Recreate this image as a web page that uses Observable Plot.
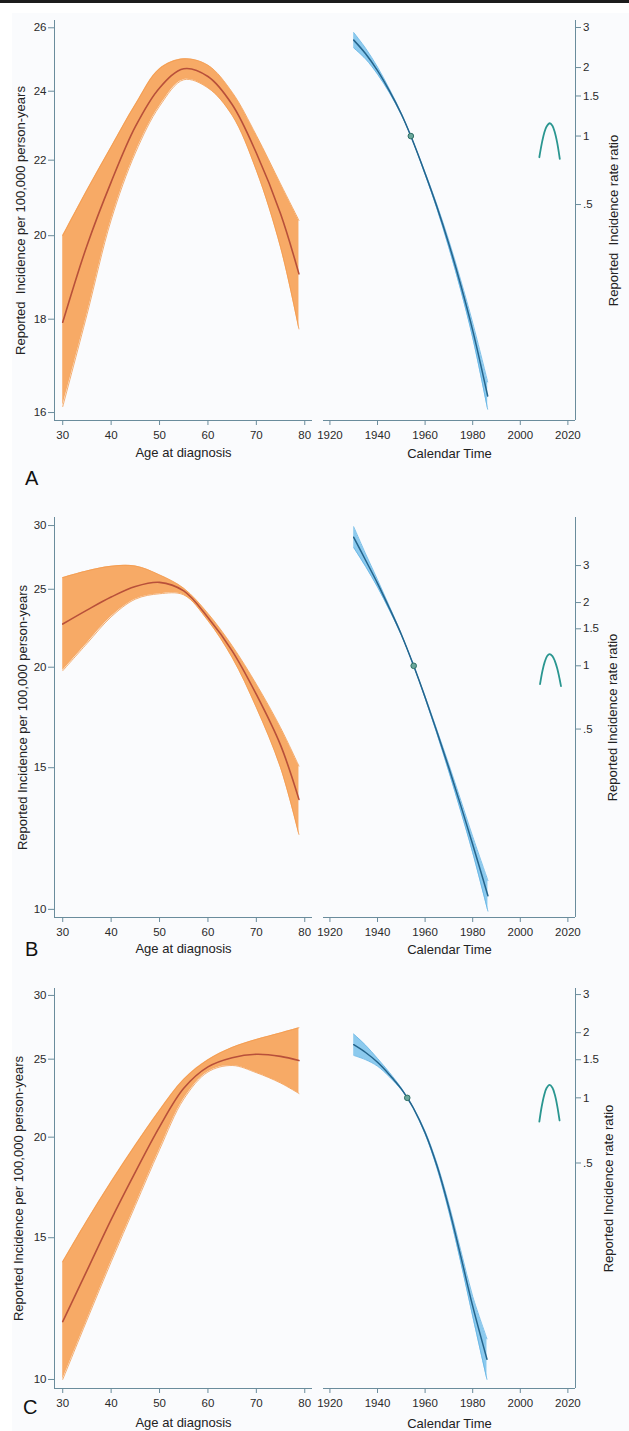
<!DOCTYPE html>
<html><head><meta charset="utf-8">
<script src="https://cdn.jsdelivr.net/npm/d3@7"></script>
<script src="https://cdn.jsdelivr.net/npm/@observablehq/plot@0.6"></script>
<style>
body{margin:0;background:#fff;}
#root{position:relative;width:629px;height:1431px;overflow:hidden;font-family:"Liberation Sans",Arial,sans-serif;}
.bar{position:absolute;left:0;top:0;width:629px;height:3px;background:#1c1c1c;}
.bg{position:absolute;left:12px;top:13px;right:0;bottom:0;background:#fafbfd;}
.plot{position:absolute;}
.letter{position:absolute;font-size:20px;line-height:20px;color:#111;font-family:"Liberation Sans",Arial,sans-serif;}
</style></head><body><div id="root"><div class="bar"></div><div class="bg"></div></div>
<script>
// ---- shared axes ----
const ageTicks = [30, 40, 50, 60, 70, 80];
const yearTicks = [1920, 1940, 1960, 1980, 2000, 2020];
const rrTicks = [3, 2, 1.5, 1, 0.5];
const ageDomain = [28.3, 81.6];
const yearDomain = [1917.3, 2023.2];

// ---- Panel A ----
const ageA = [30, 35, 40, 45, 50, 55, 60, 65, 70, 75, 78.8];
const estA = [17.93, 19.75, 21.4, 22.95, 24.1, 24.69, 24.45, 23.6, 22.2, 20.56, 19.06];
const loA  = [16.12, 18.1, 20.4, 22.2, 23.55, 24.35, 24.1, 23.28, 21.72, 19.71, 17.78];
const hiA  = [20.0, 21.18, 22.37, 23.6, 24.69, 25.0, 24.8, 23.97, 22.7, 21.35, 20.39];
const leftTicksA = [16, 18, 20, 22, 24, 26];
const leftDomainA = [15.84, 26.24];
const yearA = [1930, 1935, 1940, 1945, 1950, 1954, 1960, 1965, 1970, 1975, 1980, 1986.3];
const rrA   = [2.64, 2.30, 1.94, 1.58, 1.25, 1.00, 0.685, 0.488, 0.335, 0.221, 0.140, 0.072];
const rrLoA = [2.44, 2.18, 1.87, 1.55, 1.24, 1.00, 0.678, 0.478, 0.323, 0.210, 0.130, 0.063];
const rrHiA = [2.85, 2.43, 2.01, 1.61, 1.26, 1.00, 0.692, 0.498, 0.347, 0.232, 0.151, 0.083];
const refYearA = 1954;
const archYearA = [2008, 2009, 2010, 2011, 2012.4, 2013.5, 2014.5, 2015.5, 2016.6];
const archRrA   = [0.807, 0.924, 1.026, 1.099, 1.138, 1.11, 1.04, 0.936, 0.794];
const rightDomainA = [0.0562, 3.22];

// ---- Panel B ----
const ageB = [30, 35, 40, 45, 50, 55, 60, 65, 70, 75, 78.8];
const estB = [22.63, 23.55, 24.45, 25.2, 25.5, 24.88, 23.06, 20.96, 18.5, 16.0, 13.7];
const loB  = [19.8, 21.4, 23.1, 24.3, 24.68, 24.6, 22.85, 20.56, 17.82, 15.0, 12.39];
const hiB  = [25.85, 26.35, 26.7, 26.72, 26.05, 25.07, 23.33, 21.27, 19.05, 16.82, 15.07];
const leftTicksB = [10, 15, 20, 25, 30];
const leftDomainB = [9.77, 30.7];
const yearB = [1930, 1935, 1940, 1945, 1950, 1955.2, 1960, 1965, 1970, 1975, 1980, 1986.4];
const rrB   = [4.09, 3.18, 2.47, 1.88, 1.41, 1.00, 0.708, 0.484, 0.326, 0.216, 0.141, 0.0805];
const rrLoB = [3.65, 2.97, 2.37, 1.84, 1.40, 1.00, 0.701, 0.474, 0.313, 0.203, 0.129, 0.068];
const rrHiB = [4.59, 3.41, 2.57, 1.92, 1.42, 1.00, 0.715, 0.494, 0.339, 0.229, 0.154, 0.095];
const refYearB = 1955.2;
const archYearB = [2008.3, 2009.3, 2010.3, 2011.3, 2012.3, 2013.5, 2014.5, 2015.5, 2016.5, 2017.1];
const archRrB   = [0.818, 0.945, 1.047, 1.114, 1.137, 1.112, 1.056, 0.973, 0.868, 0.80];
const rightDomainB = [0.0634, 5.08];

// ---- Panel C ----
const ageC = [30, 35, 40, 45, 50, 55, 60, 65, 70, 75, 78.8];
const estC = [11.8, 13.65, 15.8, 18.1, 20.6, 23.0, 24.45, 25.1, 25.35, 25.2, 24.9];
const loC  = [10.0, 11.85, 14.0, 16.45, 19.3, 22.3, 24.1, 24.55, 24.05, 23.35, 22.66];
const hiC  = [14.0, 15.75, 17.6, 19.55, 21.6, 23.6, 24.95, 25.85, 26.45, 26.95, 27.35];
const leftTicksC = [10, 15, 20, 25, 30];
const leftDomainC = [9.745, 30.6];
const yearC = [1930, 1935, 1940, 1945, 1950, 1952.5, 1955, 1960, 1965, 1970, 1975, 1980, 1986];
const rrC   = [1.76, 1.62, 1.46, 1.28, 1.10, 1.00, 0.90, 0.69, 0.485, 0.31, 0.185, 0.109, 0.062];
const rrLoC = [1.57, 1.50, 1.40, 1.25, 1.09, 1.00, 0.895, 0.68, 0.473, 0.298, 0.174, 0.098, 0.050];
const rrHiC = [1.97, 1.75, 1.52, 1.31, 1.11, 1.00, 0.905, 0.70, 0.497, 0.323, 0.197, 0.121, 0.077];
const refYearC = 1952.5;
const archYearC = [2008, 2009, 2010, 2011, 2012.3, 2013.5, 2014.5, 2015.5, 2016.5];
const archRrC   = [0.777, 0.912, 1.026, 1.108, 1.148, 1.113, 1.035, 0.921, 0.786];
const rightDomainC = [0.0454, 3.2];

const leftTitleA = "Reported\u00A0 Incidence per 100,000 person-years";
const leftTitleBC = "Reported Incidence per 100,000 person-years";
const rightTitleA = "Reported\u00A0 Incidence rate ratio";
const rightTitleBC = "Reported Incidence rate ratio";

// ---- colours ----
const axisColor = "#6a8c9c";
const textColor = "#2a2a2a";
const orangeFill = "#f7aa66";
const orangeEdge = "#f29a4e";
const redLine = "#b8503a";
const blueFill = "#8ccaee";
const blueEdge = "#62b3e3";
const blueLine = "#24648c";
const archColor = "#2a9690";
const curve = "catmull-rom";

const font = "'Liberation Sans', Arial, sans-serif";
const root = document.getElementById("root");

function makePanel(p) {
  const ageRows = p.age.map((a, i) => ({age: a, est: p.est[i], lo: p.lo[i], hi: p.hi[i]}));
  const yrRows = p.year.map((y, i) => ({year: y, rr: p.rr[i], lo: p.rrLo[i], hi: p.rrHi[i]}));
  const archRows = p.archYear.map((y, i) => ({year: y, rr: p.archRr[i]}));
  const style = {background: "transparent", fontFamily: font, fontSize: "11.5px", color: textColor, overflow: "visible"};

  const left = Plot.plot({
    width: 318, height: 460, marginLeft: 54, marginRight: 6, marginTop: 20, marginBottom: 40,
    style,
    x: {domain: ageDomain},
    y: {type: "log", domain: p.leftDomain},
    marks: [
      Plot.areaY(ageRows, {x: "age", y1: "lo", y2: "hi", fill: orangeFill, curve}),
      Plot.lineY(ageRows, {x: "age", y: "lo", stroke: orangeEdge, strokeWidth: 0.8, curve}),
      Plot.lineY(ageRows, {x: "age", y: "hi", stroke: orangeEdge, strokeWidth: 0.8, curve}),
      Plot.lineY(ageRows, {x: "age", y: "est", stroke: redLine, strokeWidth: 1.6, curve}),
      Plot.ruleX([ageDomain[0]], {stroke: axisColor, strokeWidth: 1}),
      Plot.ruleY([p.leftDomain[0]], {stroke: axisColor, strokeWidth: 1}),
      Plot.axisX({ticks: ageTicks, tickSize: 5, tickPadding: 5, stroke: axisColor, fill: textColor, label: null, fontSize: 11.5}),
      Plot.axisY({ticks: p.leftTicks, tickFormat: d => String(d), tickSize: 6, tickPadding: 2, stroke: axisColor, fill: textColor, label: null, fontSize: 11.5}),
      Plot.text([p.leftTitle], {text: d => d, frameAnchor: "left", textAnchor: "middle", lineAnchor: "middle", dx: p.leftTitleX - 54, rotate: -90, fontSize: 13, fill: "#222", fontFamily: font}),
      Plot.text(["Age at diagnosis"], {text: d => d, frameAnchor: "bottom", textAnchor: "middle", lineAnchor: "middle", dy: p.xTitleDy, fontSize: 13, fill: "#222", fontFamily: font})
    ]
  });

  const right = Plot.plot({
    width: 311, height: 460, marginLeft: 5, marginRight: 54, marginTop: 20, marginBottom: 40,
    style,
    x: {domain: yearDomain},
    y: {type: "log", domain: p.rightDomain},
    marks: [
      Plot.areaY(yrRows, {x: "year", y1: "lo", y2: "hi", fill: blueFill, curve}),
      Plot.lineY(yrRows, {x: "year", y: "lo", stroke: blueEdge, strokeWidth: 0.8, curve}),
      Plot.lineY(yrRows, {x: "year", y: "hi", stroke: blueEdge, strokeWidth: 0.8, curve}),
      Plot.lineY(yrRows, {x: "year", y: "rr", stroke: blueLine, strokeWidth: 1.5, curve}),
      Plot.dot([{year: p.refYear, rr: 1}], {x: "year", y: "rr", r: 2.8, stroke: "#2f6f66", fill: "#6aa79b", strokeWidth: 1}),
      Plot.lineY(archRows, {x: "year", y: "rr", stroke: archColor, strokeWidth: 1.8, curve}),
      Plot.ruleY([p.rightDomain[0]], {stroke: axisColor, strokeWidth: 1}),
      Plot.ruleX([yearDomain[1]], {stroke: axisColor, strokeWidth: 1}),
      Plot.axisX({ticks: yearTicks, tickFormat: d => String(d), tickSize: 5, tickPadding: 5, stroke: axisColor, fill: textColor, label: null, fontSize: 11.5}),
      Plot.axisY({anchor: "right", ticks: rrTicks, tickFormat: d => String(d).replace(/^0\./, "."), tickSize: 5, tickPadding: 2.5, stroke: axisColor, fill: textColor, label: null, fontSize: 11.5}),
      Plot.text([p.rightTitle], {text: d => d, frameAnchor: "right", textAnchor: "middle", lineAnchor: "middle", dx: p.rightTitleX - 575, rotate: -90, fontSize: 13, fill: "#222", fontFamily: font}),
      Plot.text(["Calendar Time"], {text: d => d, frameAnchor: "bottom", textAnchor: "middle", lineAnchor: "middle", dy: p.xTitleDy + 1, fontSize: 13, fill: "#222", fontFamily: font})
    ]
  });

  left.classList.add("plot");
  right.classList.add("plot");
  left.style.left = "0px"; left.style.top = p.top + "px";
  right.style.left = "318px"; right.style.top = p.top + "px";
  root.appendChild(left);
  root.appendChild(right);

  const letter = document.createElement("div");
  letter.className = "letter";
  letter.textContent = p.letter;
  letter.style.left = p.letterX + "px";
  letter.style.top = p.letterTop + "px";
  root.appendChild(letter);
}

makePanel({top: 0, age: ageA, est: estA, lo: loA, hi: hiA, leftTicks: leftTicksA, leftDomain: leftDomainA,
  year: yearA, rr: rrA, rrLo: rrLoA, rrHi: rrHiA, refYear: refYearA, archYear: archYearA, archRr: archRrA,
  rightDomain: rightDomainA, leftTitle: leftTitleA, rightTitle: rightTitleA, leftTitleX: 20, rightTitleX: 613,
  xTitleDy: 32, letter: "A", letterX: 25, letterTop: 468});
makePanel({top: 497, age: ageB, est: estB, lo: loB, hi: hiB, leftTicks: leftTicksB, leftDomain: leftDomainB,
  year: yearB, rr: rrB, rrLo: rrLoB, rrHi: rrHiB, refYear: refYearB, archYear: archYearB, archRr: archRrB,
  rightDomain: rightDomainB, leftTitle: leftTitleBC, rightTitle: rightTitleBC, leftTitleX: 22, rightTitleX: 612,
  xTitleDy: 31, letter: "B", letterX: 25, letterTop: 939});
makePanel({top: 968, age: ageC, est: estC, lo: loC, hi: hiC, leftTicks: leftTicksC, leftDomain: leftDomainC,
  year: yearC, rr: rrC, rrLo: rrLoC, rrHi: rrHiC, refYear: refYearC, archYear: archYearC, archRr: archRrC,
  rightDomain: rightDomainC, leftTitle: leftTitleBC, rightTitle: rightTitleBC, leftTitleX: 18, rightTitleX: 608,
  xTitleDy: 34, letter: "C", letterX: 23, letterTop: 1397});
</script></body></html>
